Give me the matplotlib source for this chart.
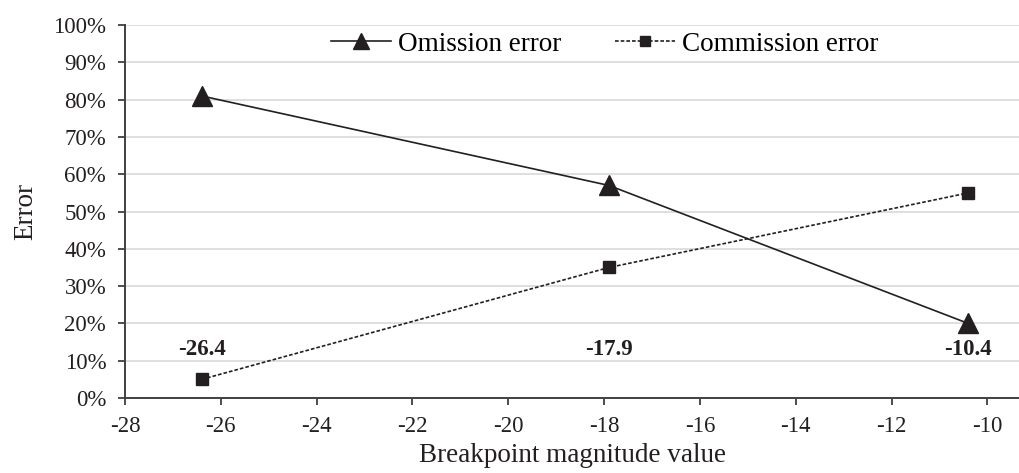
import matplotlib
matplotlib.use("Agg")
import matplotlib.pyplot as plt
from matplotlib.ticker import FuncFormatter

plt.rcParams['font.family'] = ['Liberation Serif', 'DejaVu Serif']

breakpoints = [-26.4, -17.9, -10.4]
omission = [81, 57, 20]
commission = [5, 35, 55]
point_labels = ["-26.4", "-17.9", "-10.4"]
label_y = 13
x_ticks = [-28, -26, -24, -22, -20, -18, -16, -14, -12, -10]
y_ticks = [0, 10, 20, 30, 40, 50, 60, 70, 80, 90, 100]

fig = plt.figure(figsize=(10.2, 4.73), dpi=100)
ax = fig.add_axes([0.1225, 0.1585, 0.8775, 0.7885])

ax.plot(breakpoints, omission, color='#231f20', lw=1.2, marker='^',
        markersize=14, markerfacecolor='#231f20', markeredgecolor='#231f20',
        label='Omission error', zorder=3)
ax.plot(breakpoints, commission, color='#231f20', lw=1.2, ls=(0, (2.2, 1.2)),
        marker='s', markersize=8.5, markerfacecolor='#231f20',
        markeredgecolor='#231f20', label='Commission error', zorder=3)

for x, t in zip(breakpoints, point_labels):
    ax.text(x, label_y, t, ha='center', va='center', fontsize=16.5,
            fontweight='bold', color='#231f20')

ax.set_xlim(-28, -9.32)
ax.set_ylim(0, 100)
ax.set_xticks(x_ticks)
ax.set_yticks(y_ticks)
ax.yaxis.set_major_formatter(FuncFormatter(lambda v, p: f"{int(v)}%"))
ax.xaxis.set_major_formatter(FuncFormatter(lambda v, p: f"{int(v)}"))

ax.grid(axis='y', color='#d9d9d9', lw=1.2)
ax.set_axisbelow(True)
for s in ['top', 'right']:
    ax.spines[s].set_visible(False)
for s in ['left', 'bottom']:
    ax.spines[s].set_color('#404040')
    ax.spines[s].set_linewidth(1.4)
ax.tick_params(axis='both', direction='out', length=5, width=1.3,
               color='#404040', labelsize=16.5, labelcolor='#231f20')
ax.tick_params(axis='x', pad=8)
ax.tick_params(axis='y', pad=8.5)

ax.set_xlabel('Breakpoint magnitude value', fontsize=19.5, color='#231f20', labelpad=4)
ax.set_ylabel('Error', fontsize=19.5, color='#231f20', labelpad=11)

ax.legend(loc='center', bbox_to_anchor=(0.536, 0.949), ncol=2, frameon=False,
          fontsize=19.5, handlelength=2.2, handletextpad=0.25,
          columnspacing=2.0, markerscale=0.8, borderpad=0)

fig.savefig('out.png', dpi=100)
